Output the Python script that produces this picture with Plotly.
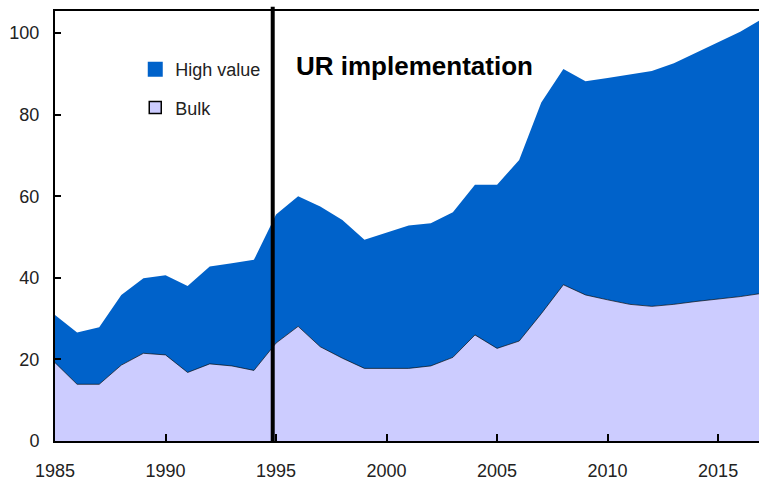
import plotly.graph_objects as go

years = list(range(1985, 2018))
bulk = [19.2, 13.9, 13.9, 18.6, 21.5, 21.1, 16.8, 18.9, 18.4, 17.3,
        24.0, 28.1, 23.1, 20.3, 17.8, 17.8, 17.8, 18.4, 20.5, 26.0,
        22.7, 24.5, 31.2, 38.3, 35.8, 34.6, 33.5, 33.0, 33.5, 34.2,
        34.8, 35.4, 36.2]
high_value = [11.7, 12.7, 14.0, 17.2, 18.4, 19.5, 21.2, 23.9, 25.2, 27.1,
              31.5, 31.9, 34.4, 33.9, 31.5, 33.3, 35.0, 35.0, 35.6, 36.8,
              40.1, 44.4, 51.8, 52.9, 52.4, 54.4, 56.3, 57.7, 59.1, 61.0,
              62.8, 64.9, 67.3]
x_ticks = [1985, 1990, 1995, 2000, 2005, 2010, 2015]
y_ticks = [0, 20, 40, 60, 80, 100]
ur_year = 1994.85
ur_label = "UR implementation"

BLUE = "#0062CA"
LAVENDER = "#CCCCFF"

fig = go.Figure()
fig.add_trace(go.Scatter(x=years, y=bulk, stackgroup="one", mode="lines",
                         line=dict(color="rgba(0,0,0,0.65)", width=1),
                         fillcolor=LAVENDER, name="Bulk", showlegend=False))
fig.add_trace(go.Scatter(x=years, y=high_value, stackgroup="one", mode="lines",
                         line=dict(color=BLUE, width=0),
                         fillcolor=BLUE, name="High value", showlegend=False))
# legend entries
fig.add_trace(go.Scatter(x=[None], y=[None], mode="markers", name="High value",
                         marker=dict(symbol="square", size=15, color=BLUE,
                                     line=dict(width=0)),
                         legendgroup="a"))
fig.add_trace(go.Scatter(x=[None], y=[None], mode="markers", name="Bulk",
                         marker=dict(symbol="square", size=12, color=LAVENDER,
                                     line=dict(width=1.5, color="black")),
                         legendgroup="b"))

fig.add_shape(type="line", xref="x", yref="paper", x0=ur_year, x1=ur_year,
              y0=0, y1=1.01, line=dict(color="black", width=4))
fig.add_annotation(x=1995.79, y=91.9, xref="x", yref="y", text="<b>%s</b>" % ur_label,
                   showarrow=False, xanchor="left", yanchor="middle",
                   font=dict(family="Arial", size=26, color="black"))

fig.update_layout(
    width=759, height=485,
    margin=dict(l=55, r=0, t=11, b=44, autoexpand=False),
    paper_bgcolor="white", plot_bgcolor="white",
    font=dict(family="Arial", size=18, color="#222"),
    legend=dict(x=0.114, y=0.907, xanchor="left", yanchor="top",
                traceorder="grouped", tracegroupgap=12,
                font=dict(size=18, color="#222"), bgcolor="rgba(0,0,0,0)"),
    xaxis=dict(range=[1985, 2016.85], tickvals=x_ticks, ticks="inside",
               ticklen=7, tickwidth=2, tickcolor="black", showline=True,
               linewidth=2, linecolor="black", mirror=True, showgrid=False,
               zeroline=False, ticklabelstandoff=12, automargin=False,
               tickfont=dict(size=18, color="#222")),
    yaxis=dict(range=[0, 105.4], tickvals=y_ticks, ticks="inside",
               ticklen=6, tickwidth=2, tickcolor="black", showline=True,
               linewidth=2, linecolor="black", showgrid=False,
               zeroline=False, ticklabelstandoff=10, automargin=False,
               tickfont=dict(size=18, color="#222")),
)

fig.write_html("out.html", config={"displayModeBar": False},
               post_script="document.body.style.margin='0';document.body.style.padding='0';")
